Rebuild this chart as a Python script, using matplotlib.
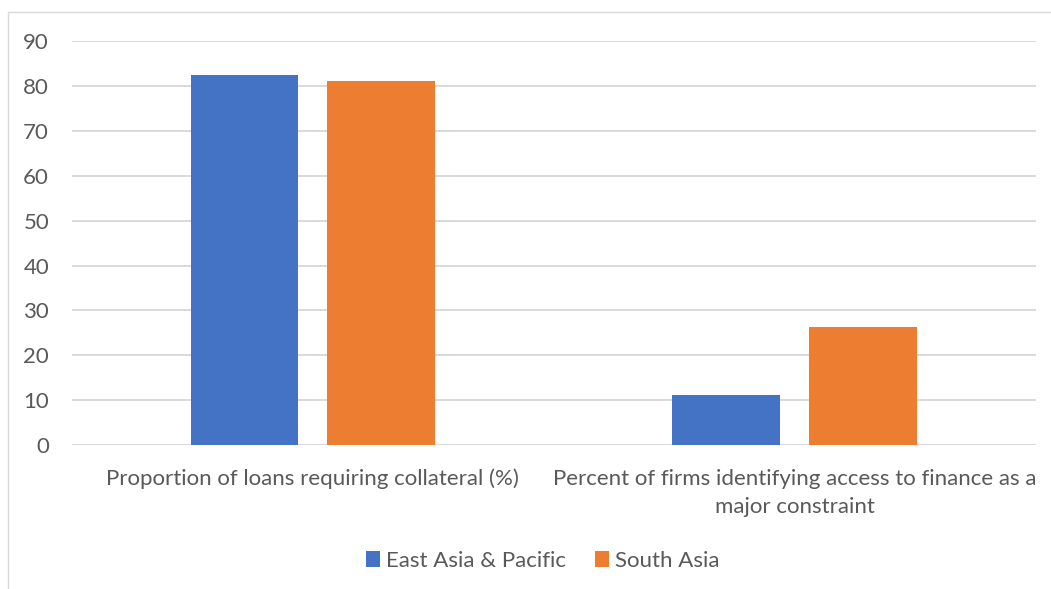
import matplotlib
matplotlib.use("Agg")
import matplotlib.pyplot as plt
import numpy as np
from matplotlib.patches import Rectangle

categories = ["Proportion of loans requiring collateral (%)",
              "Percent of firms identifying access to finance as a\nmajor constraint"]
series_names = ["East Asia & Pacific", "South Asia"]
east_asia_pacific = [82.5, 11.2]
south_asia = [81.1, 26.4]
y_ticks = [0, 10, 20, 30, 40, 50, 60, 70, 80, 90]

colors = ["#4472C4", "#ED7D31"]
text_color = "#595959"
grid_color = "#D9D9D9"
fs = 16

plt.rcParams['font.family'] = ['Lato', 'DejaVu Sans']

W, H = 1051, 589
fig = plt.figure(figsize=(W / 100, H / 100), dpi=100)

# chart frame
fig.patches.append(Rectangle((7.5 / W, -0.1), 1.2, (H - 12) / H + 0.1,
                             transform=fig.transFigure, fill=False,
                             edgecolor=grid_color, linewidth=1.0))

left, right = 72 / W, 1035.5 / W
bottom, top = (H - 445) / H, (H - 41.3) / H
ax = fig.add_axes([left, bottom, right - left, top - bottom])

x = np.arange(len(categories))
bw = 0.224
off = 0.142
ax.bar(x - off, east_asia_pacific, bw, color=colors[0], label=series_names[0], zorder=3)
ax.bar(x + off, south_asia, bw, color=colors[1], label=series_names[1], zorder=3)

ax.set_xlim(-0.5, 1.5)
ax.set_ylim(0, 90)
ax.set_yticks(y_ticks)
ax.set_yticklabels([str(v) for v in y_ticks], fontsize=fs, color=text_color)
ax.set_xticks(x)
ax.set_xticklabels(categories, fontsize=fs, color=text_color, linespacing=1.5)
ax.tick_params(axis='both', length=0)
ax.tick_params(axis='y', pad=16.5)
ax.tick_params(axis='x', pad=17)
ax.grid(axis='y', color=grid_color, linewidth=1.4, zorder=0)
for s in ax.spines.values():
    s.set_visible(False)

leg = fig.legend(loc='center', bbox_to_anchor=(543 / W, (H - 561) / H), ncol=2,
                 frameon=False, fontsize=fs, handlelength=0.6, handleheight=0.75,
                 handletextpad=0.3, columnspacing=1.3)
for t in leg.get_texts():
    t.set_color(text_color)

fig.savefig("out.png", dpi=100)
